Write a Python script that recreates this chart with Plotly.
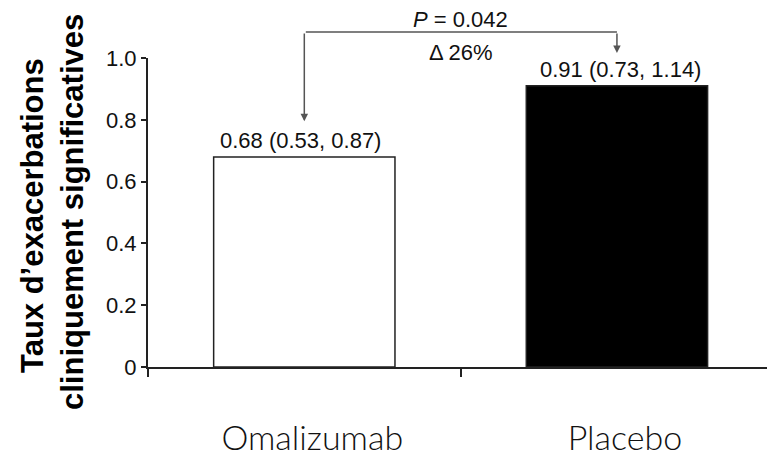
import plotly.graph_objects as go

# Clinically significant exacerbation rates (95% CI)
categories = ["Omalizumab", "Placebo"]
rates = [0.68, 0.91]
ci_low = [0.53, 0.73]
ci_high = [0.87, 1.14]
bar_colors = ["#ffffff", "#000000"]

y_ticks = [0, 0.2, 0.4, 0.6, 0.8, 1.0]
y_tick_text = ["0", "0.2", "0.4", "0.6", "0.8", "1.0"]

p_value_text = "<i>P</i> = 0.042"
delta_text = "\u0394 26%"
y_title_lines = ["Taux d\u2019exacerbations", "cliniquement significatives"]

# Bracket levels in y-axis units (the y range is 0-1 over the full plot height,
# so these are also valid as paper coordinates)
bracket_y = 1.084
left_tip = 0.795
right_tip = 1.016

axis_color = "#222222"
bracket_color = "#555555"
label_font = dict(family="Liberation Sans, Arial", size=22, color="#111111")

W, H = 767, 459
M = dict(l=148, r=0, t=58, b=92)
plot_w = W - M["l"] - M["r"]
plot_h = H - M["t"] - M["b"]

fig = go.Figure()
fig.add_trace(go.Bar(
    x=categories,
    y=rates,
    width=0.58,
    marker=dict(color=bar_colors, line=dict(color="#222222", width=1.5)),
    showlegend=False,
    hoverinfo="skip",
))

annotations = []
# Value labels with confidence intervals
for i, (cat, r, lo, hi) in enumerate(zip(categories, rates, ci_low, ci_high)):
    annotations.append(dict(
        x=cat, y=r, xref="x", yref="y",
        text=f"{r:.2f} ({lo:.2f}, {hi:.2f})",
        showarrow=False, yanchor="bottom", yshift=2, xshift=-4 if i == 0 else 4,
        font=label_font,
    ))

# Comparison bracket: horizontal bar plus two arrows
annotations.append(dict(
    x=1, y=bracket_y, ax=0, ay=0, xref="x", yref="paper", axref="x", ayref="pixel",
    text="", showarrow=True, arrowhead=0, arrowwidth=1.5, arrowcolor=bracket_color,
    xshift=0, standoff=0, startstandoff=0,
))
for cat_idx, tip in [(0, left_tip), (1, right_tip)]:
    annotations.append(dict(
        x=cat_idx, y=tip, ax=0, ay=-(bracket_y - tip) * plot_h,
        xref="x", yref="paper", axref="pixel", ayref="pixel",
        text="", showarrow=True, arrowhead=2, arrowsize=1.0, arrowwidth=1.5,
        arrowcolor=bracket_color, standoff=0, startstandoff=0,
    ))
annotations.append(dict(
    x=0.5, y=bracket_y, xref="x", yref="paper", text=p_value_text, showarrow=False,
    yanchor="bottom", yshift=-2, font=label_font,
))
annotations.append(dict(
    x=0.5, y=bracket_y, xref="x", yref="paper", text=delta_text, showarrow=False,
    yanchor="top", yshift=-6, font=label_font,
))

# Rotated two-line axis title, one annotation per line (pixel centres -> paper)
for line, px, py in zip(y_title_lines, [33, 72], [216, 212]):
    annotations.append(dict(
        x=(px - M["l"]) / plot_w, y=(H - M["b"] - py) / plot_h,
        xref="paper", yref="paper", xanchor="center", yanchor="middle",
        text=line, showarrow=False, textangle=-90,
        font=dict(family="Liberation Sans, Arial", size=31, color="#000000", weight="bold"),
    ))

fig.update_layout(
    width=W, height=H,
    margin=M,
    paper_bgcolor="white", plot_bgcolor="white",
    annotations=annotations,
    xaxis=dict(
        type="category", range=[-0.5, 1.48], automargin=False,
        tickson="boundaries", ticks="outside", ticklen=8, tickwidth=2, tickcolor=axis_color,
        showline=True, linecolor=axis_color, linewidth=2,
        showgrid=False, zeroline=False,
        tickfont=dict(family="Lato", size=34, color="#111111", weight=300),
        ticklabelstandoff=40, ticklabelshift=8,
    ),
    yaxis=dict(
        range=[0, 1.0], tickvals=y_ticks, ticktext=y_tick_text, automargin=False,
        ticks="outside", ticklen=5, tickwidth=2, tickcolor=axis_color,
        showline=True, linecolor=axis_color, linewidth=2,
        showgrid=False, zeroline=False,
        tickfont=label_font,
    ),
)

fig.write_html("out.html")
